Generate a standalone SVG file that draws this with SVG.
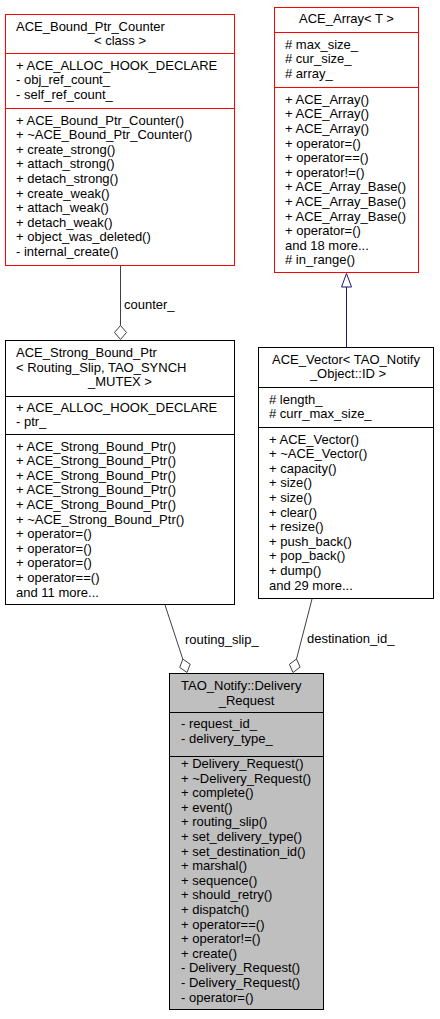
<svg xmlns="http://www.w3.org/2000/svg" width="440" height="1019" viewBox="0 0 440 1019">
<style>
text{font-family:"Liberation Sans",Arial,Helvetica,sans-serif;font-size:13px;fill:#000}
.m{text-anchor:middle}
.box{fill:#fff;stroke:#000;stroke-width:1}
.red{fill:#fff;stroke:#ff0000;stroke-width:1}
.cur{fill:#bfbfbf;stroke:#000;stroke-width:1}
.sepk{stroke:#000;stroke-width:1}
.sepr{stroke:#ff0000;stroke-width:1}
.edge{fill:none;stroke:#404040;stroke-width:1}
.dia{fill:#fff;stroke:#404040;stroke-width:1}
.inh{fill:none;stroke:#191970;stroke-width:1}
.tri{fill:#fff;stroke:#191970;stroke-width:1}
</style>
<rect width="440" height="1019" fill="#fff"/>

<g id="connectors">
  <line class="edge" x1="120.5" y1="266" x2="120.5" y2="325.5"/>
  <polygon class="dia" points="120.5,339.5 126.5,332.5 120.5,325.5 114.5,332.5"/>
  <text x="124" y="309">counter_</text>

  <line class="inh" x1="346.5" y1="287" x2="346.5" y2="347"/>
  <polygon class="tri" points="346.5,273.5 351.5,287 341.5,287"/>

  <line class="edge" x1="165" y1="605" x2="182.8" y2="659.1"/>
  <polygon class="dia" points="187,672.5 190.2,664.2 182.8,659.1 179.7,667.4"/>
  <text x="185" y="644">routing_slip_</text>

  <line class="edge" x1="312" y1="599" x2="296.5" y2="659"/>
  <polygon class="dia" points="293,672.5 300.1,667.1 296.5,659 289.4,664.3"/>
  <text x="307" y="643">destination_id_</text>
</g>

<g id="ACE_Bound_Ptr_Counter">
  <rect class="red" x="5.5" y="14.5" width="229" height="251"/>
  <line class="sepr" x1="5.5" y1="53.5" x2="234.5" y2="53.5"/>
  <line class="sepr" x1="5.5" y1="108.5" x2="234.5" y2="108.5"/>
  <text x="16" y="30.5">ACE_Bound_Ptr_Counter</text>
  <text class="m" x="120" y="45">&lt; class &gt;</text>
  <text x="16" y="69.5">+ ACE_ALLOC_HOOK_DECLARE</text>
  <text x="16" y="84.1">- obj_ref_count_</text>
  <text x="16" y="98.7">- self_ref_count_</text>
  <text x="16" y="124.5">+ ACE_Bound_Ptr_Counter()</text>
  <text x="16" y="139.1">+ ~ACE_Bound_Ptr_Counter()</text>
  <text x="16" y="153.7">+ create_strong()</text>
  <text x="16" y="168.3">+ attach_strong()</text>
  <text x="16" y="182.9">+ detach_strong()</text>
  <text x="16" y="197.5">+ create_weak()</text>
  <text x="16" y="212.1">+ attach_weak()</text>
  <text x="16" y="226.7">+ detach_weak()</text>
  <text x="16" y="241.3">+ object_was_deleted()</text>
  <text x="16" y="255.9">- internal_create()</text>
</g>

<g id="ACE_Array">
  <rect class="red" x="274.5" y="7.5" width="144" height="265"/>
  <line class="sepr" x1="274.5" y1="32.5" x2="418.5" y2="32.5"/>
  <line class="sepr" x1="274.5" y1="87.5" x2="418.5" y2="87.5"/>
  <text class="m" x="346.5" y="23">ACE_Array&lt; T &gt;</text>
  <text x="285" y="48.5"># max_size_</text>
  <text x="285" y="63.1"># cur_size_</text>
  <text x="285" y="77.7"># array_</text>
  <text x="285" y="103.8">+ ACE_Array()</text>
  <text x="285" y="118.4">+ ACE_Array()</text>
  <text x="285" y="133">+ ACE_Array()</text>
  <text x="285" y="147.6">+ operator=()</text>
  <text x="285" y="162.2">+ operator==()</text>
  <text x="285" y="176.8">+ operator!=()</text>
  <text x="285" y="191.4">+ ACE_Array_Base()</text>
  <text x="285" y="206">+ ACE_Array_Base()</text>
  <text x="285" y="220.6">+ ACE_Array_Base()</text>
  <text x="285" y="235.2">+ operator=()</text>
  <text x="285" y="249.8">and 18 more...</text>
  <text x="285" y="264.4"># in_range()</text>
</g>

<g id="ACE_Strong_Bound_Ptr">
  <rect class="box" x="5.5" y="340.5" width="229" height="264"/>
  <line class="sepk" x1="5.5" y1="396.5" x2="234.5" y2="396.5"/>
  <line class="sepk" x1="5.5" y1="434.5" x2="234.5" y2="434.5"/>
  <text x="16" y="357">ACE_Strong_Bound_Ptr</text>
  <text x="16" y="371.5">&lt; Routing_Slip, TAO_SYNCH</text>
  <text class="m" x="120" y="386">_MUTEX &gt;</text>
  <text x="16" y="411.5">+ ACE_ALLOC_HOOK_DECLARE</text>
  <text x="16" y="426">- ptr_</text>
  <text x="16" y="450.5">+ ACE_Strong_Bound_Ptr()</text>
  <text x="16" y="465.1">+ ACE_Strong_Bound_Ptr()</text>
  <text x="16" y="479.7">+ ACE_Strong_Bound_Ptr()</text>
  <text x="16" y="494.3">+ ACE_Strong_Bound_Ptr()</text>
  <text x="16" y="508.9">+ ACE_Strong_Bound_Ptr()</text>
  <text x="16" y="523.5">+ ~ACE_Strong_Bound_Ptr()</text>
  <text x="16" y="538.1">+ operator=()</text>
  <text x="16" y="552.7">+ operator=()</text>
  <text x="16" y="567.3">+ operator=()</text>
  <text x="16" y="581.9">+ operator==()</text>
  <text x="16" y="596.5">and 11 more...</text>
</g>

<g id="ACE_Vector">
  <rect class="box" x="258.5" y="347.5" width="175" height="251"/>
  <line class="sepk" x1="258.5" y1="387.5" x2="433.5" y2="387.5"/>
  <line class="sepk" x1="258.5" y1="427.5" x2="433.5" y2="427.5"/>
  <text class="m" x="346" y="363.5">ACE_Vector&lt; TAO_Notify</text>
  <text class="m" x="348" y="378">_Object::ID &gt;</text>
  <text x="269" y="403.5"># length_</text>
  <text x="269" y="418"># curr_max_size_</text>
  <text x="269" y="443.5">+ ACE_Vector()</text>
  <text x="269" y="458.1">+ ~ACE_Vector()</text>
  <text x="269" y="472.7">+ capacity()</text>
  <text x="269" y="487.3">+ size()</text>
  <text x="269" y="501.9">+ size()</text>
  <text x="269" y="516.5">+ clear()</text>
  <text x="269" y="531.1">+ resize()</text>
  <text x="269" y="545.7">+ push_back()</text>
  <text x="269" y="560.3">+ pop_back()</text>
  <text x="269" y="574.9">+ dump()</text>
  <text x="269" y="589.5">and 29 more...</text>
</g>

<g id="Delivery_Request">
  <rect class="cur" x="169.5" y="673.5" width="154" height="336"/>
  <line class="sepk" x1="169.5" y1="712.5" x2="323.5" y2="712.5"/>
  <line class="sepk" x1="169.5" y1="756.5" x2="323.5" y2="756.5"/>
  <text x="181" y="690">TAO_Notify::Delivery</text>
  <text class="m" x="246.5" y="704.5">_Request</text>
  <text x="181" y="728">- request_id_</text>
  <text x="181" y="742.5">- delivery_type_</text>
  <text x="181" y="768">+ Delivery_Request()</text>
  <text x="181" y="782.6">+ ~Delivery_Request()</text>
  <text x="181" y="797.2">+ complete()</text>
  <text x="181" y="811.8">+ event()</text>
  <text x="181" y="826.4">+ routing_slip()</text>
  <text x="181" y="841">+ set_delivery_type()</text>
  <text x="181" y="855.6">+ set_destination_id()</text>
  <text x="181" y="870.2">+ marshal()</text>
  <text x="181" y="884.8">+ sequence()</text>
  <text x="181" y="899.4">+ should_retry()</text>
  <text x="181" y="914">+ dispatch()</text>
  <text x="181" y="928.6">+ operator==()</text>
  <text x="181" y="943.2">+ operator!=()</text>
  <text x="181" y="957.8">+ create()</text>
  <text x="181" y="972.4">- Delivery_Request()</text>
  <text x="181" y="987">- Delivery_Request()</text>
  <text x="181" y="1001.6">- operator=()</text>
</g>
</svg>
